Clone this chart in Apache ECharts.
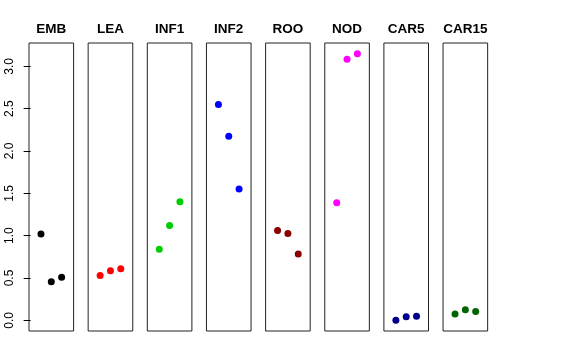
<!DOCTYPE html>
<html><head><meta charset="utf-8">
<script src="https://cdn.jsdelivr.net/npm/echarts@6/dist/echarts.min.js"></script>
<style>html,body{margin:0;padding:0;background:#fff}#c{width:576px;height:360px}</style>
</head><body><div id="c"></div>
<script>
const categories = ['EMB','LEA','INF1','INF2','ROO','NOD','CAR5','CAR15'];
const xPositions = [1, 2, 3];
const valEMB   = [1.02, 0.455, 0.51];
const valLEA   = [0.53, 0.585, 0.61];
const valINF1  = [0.84, 1.12, 1.40];
const valINF2  = [2.55, 2.175, 1.55];
const valROO   = [1.06, 1.025, 0.785];
const valNOD   = [1.39, 3.085, 3.15];
const valCAR5  = [0.0, 0.043, 0.047];
const valCAR15 = [0.074, 0.125, 0.105];
const yTicks = [0, 0.5, 1.0, 1.5, 2.0, 2.5, 3.0];
const yTickLabels = ['0.0','0.5','1.0','1.5','2.0','2.5','3.0'];

const values = [valEMB, valLEA, valINF1, valINF2, valROO, valNOD, valCAR5, valCAR15];
const colors = ['#000000','#FF0000','#00CD00','#0000FF','#8B0000','#FF00FF','#00008B','#006400'];

const panelLeft0 = 29, panelStep = 59.15, panelW = 44.6, panelTop = 43, panelH = 288;
const yMin = -0.126, yMax = 3.276, xMin = -0.16, xMax = 4.16;

const grids = [], xAxes = [], yAxes = [], series = [], graphics = [];
categories.forEach((name, i) => {
  const left = panelLeft0 + panelStep * i;
  grids.push({left: left, top: panelTop, width: panelW, height: panelH,
    show: true, borderColor: '#222', borderWidth: 1, backgroundColor: 'transparent'});
  xAxes.push({type: 'value', gridIndex: i, min: xMin, max: xMax, show: false});
  const ya = {type: 'value', gridIndex: i, min: yMin, max: yMax, show: i === 0,
    axisLine: {show: false}, splitLine: {show: false}};
  if (i === 0) {
    ya.axisTick = {show: true, length: 7, lineStyle: {color: '#000'}, customValues: yTicks};
    ya.axisLabel = {show: true, rotate: 90, margin: 13, fontSize: 12, color: '#000',
      fontFamily: 'Liberation Sans, Arial, sans-serif', customValues: yTicks,
      formatter: v => yTickLabels[yTicks.indexOf(+v.toFixed(1))] ?? v.toFixed(1)};
  }
  yAxes.push(ya);
  series.push({type: 'scatter', xAxisIndex: i, yAxisIndex: i, symbolSize: 7,
    itemStyle: {color: colors[i], opacity: 1},
    data: xPositions.map((x, k) => [x, values[i][k]]), silent: true, animation: false});
  graphics.push({type: 'text', x: left + panelW / 2, y: 29.5,
    style: {text: name, textAlign: 'center', textVerticalAlign: 'middle',
      font: 'bold 13.5px Liberation Sans, Arial, sans-serif', fill: '#000'}});
});

const chart = echarts.init(document.getElementById('c'), null, {renderer: 'canvas'});
chart.setOption({animation: false, grid: grids, xAxis: xAxes, yAxis: yAxes, series: series, graphic: graphics});
</script></body></html>
